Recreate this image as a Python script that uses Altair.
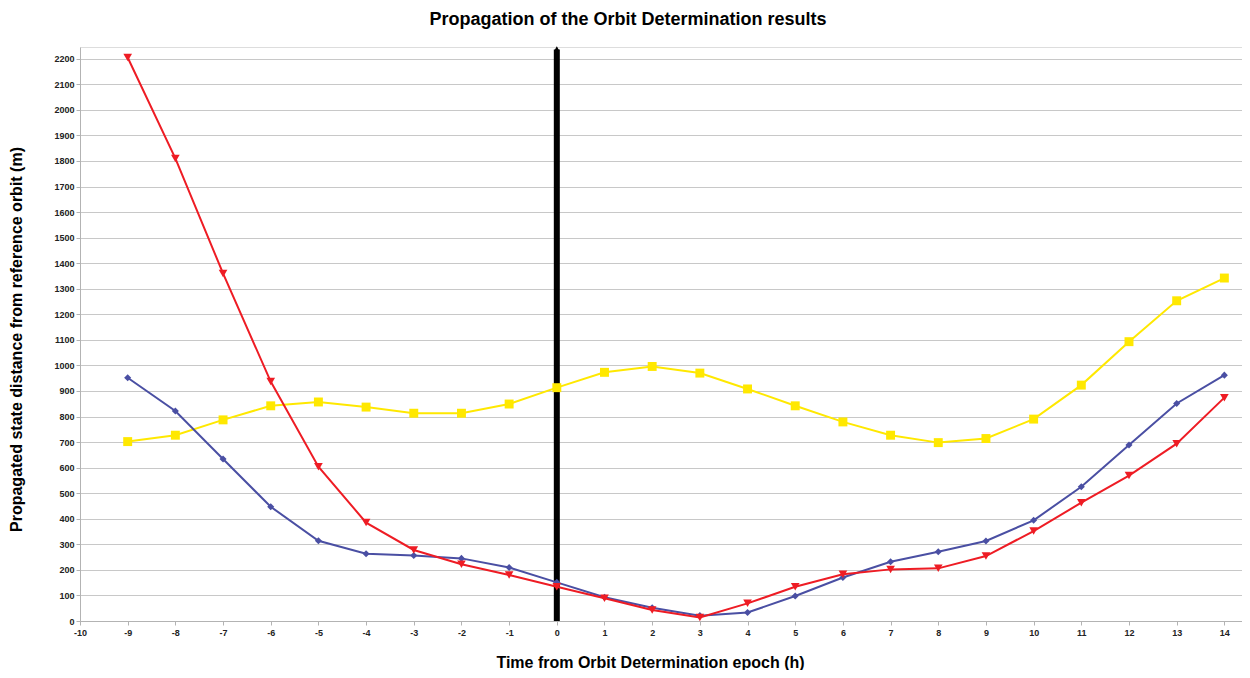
import altair as alt
import pandas as pd

hours = list(range(-9, 15))
red_values = [2205, 1810, 1360, 937, 604, 385, 278, 222, 180, 134, 89, 43, 14, 69, 134, 183,
              202, 206, 254, 352, 463, 569, 694, 874]
blue_values = [952, 822, 634, 447, 314, 263, 256, 245, 209, 151, 93, 52, 21, 33, 98, 170,
               232, 271, 313, 394, 525, 689, 851, 962]
yellow_values = [702, 727, 787, 842, 857, 837, 813, 813, 849, 913, 973, 996, 970, 908, 842, 779,
                 727, 698, 714, 790, 923, 1093, 1253, 1342]

series_names = ["Yellow", "Blue", "Red"]
series_colors = ["#ffe800", "#4a4fa3", "#ee1c24"]
series_shapes = ["square", "diamond", "triangle-down"]
series_sizes = [80, 50, 75]

x_ticks = list(range(-10, 15))
y_ticks = list(range(0, 2201, 100))

epoch = [0]
epoch_top = [2236]
arrow_tip = [2240]

rows = []
for name, vals in zip(series_names, [yellow_values, blue_values, red_values]):
    for h, v in zip(hours, vals):
        rows.append({"h": h, "d": v, "series": name})
df = pd.DataFrame(rows)

FONT = "Liberation Sans"

x_scale = alt.Scale(domain=[-10, 14.37], nice=False, zero=False)
y_scale = alt.Scale(domain=[0, 2246], nice=False, zero=True)

x_axis = alt.Axis(values=x_ticks, title="Time from Orbit Determination epoch (h)",
                  grid=False, labelFont=FONT, labelFontSize=9, labelFontWeight="bold",
                  labelColor="#222222", tickColor="#b3b3b3", tickSize=4, labelPadding=3,
                  domainColor="#b3b3b3", titleFont=FONT, titleFontSize=16,
                  titleFontWeight="bold", titleColor="#000000",
                  titleX=570, titleY=41, titleAlign="center", titleBaseline="middle",
                  labelFlush=False, labelOverlap=False, labelExpr="datum.value + ''")
y_axis = alt.Axis(values=y_ticks, title="Propagated state distance from reference orbit (m)",
                  grid=True, gridColor="#c8c8c8", labelFont=FONT, labelFontSize=9,
                  labelFontWeight="bold", labelColor="#222222", tickColor="#b3b3b3",
                  tickSize=4, labelPadding=2, domainColor="#b3b3b3", titleFont=FONT,
                  titleFontSize=16, titleFontWeight="bold", titleColor="#000000",
                  titleX=-64, titleY=292, titleAlign="center", titleBaseline="middle",
                  labelFlush=False, labelOverlap=False, labelExpr="datum.value + ''")

color_enc = alt.Color("series:N", scale=alt.Scale(domain=series_names, range=series_colors),
                      legend=None)

epoch_df = pd.DataFrame({"h": epoch, "y0": [0], "y1": epoch_top, "tip": arrow_tip})

rule = alt.Chart(epoch_df).mark_rule(color="black", strokeWidth=6).encode(
    x=alt.X("h:Q", scale=x_scale, axis=x_axis),
    y=alt.Y("y0:Q", scale=y_scale, axis=y_axis),
    y2="y1:Q",
)
tip = alt.Chart(epoch_df).mark_point(shape="triangle-up", filled=True, color="black",
                                     size=25, opacity=1).encode(
    x=alt.X("h:Q", scale=x_scale, axis=x_axis),
    y=alt.Y("tip:Q", scale=y_scale, axis=y_axis),
)

layers = [rule, tip]
for name, shape, size in zip(series_names, series_shapes, series_sizes):
    sub = df[df.series == name]
    line = alt.Chart(sub).mark_line(strokeWidth=2).encode(
        x=alt.X("h:Q", scale=x_scale, axis=x_axis),
        y=alt.Y("d:Q", scale=y_scale, axis=y_axis),
        color=color_enc,
    )
    pts = alt.Chart(sub).mark_point(shape=shape, filled=True, size=size, opacity=1).encode(
        x=alt.X("h:Q", scale=x_scale, axis=x_axis),
        y=alt.Y("d:Q", scale=y_scale, axis=y_axis),
        color=color_enc,
    )
    layers += [line, pts]

chart = alt.layer(*layers).properties(
    width=1162,
    height=574,
    autosize=alt.AutoSizeParams(type="none"),
    padding={"left": 72, "top": 39, "right": 0, "bottom": 49},
    title=alt.TitleParams("Propagation of the Orbit Determination results", font=FONT,
                          fontSize=18, fontWeight="bold", color="#000000",
                          anchor="middle", dx=-33, offset=17),
).configure_view(stroke="#c8c8c8", strokeWidth=1).configure(background="white")

chart.save("out.html", embed_options={"renderer": "svg", "actions": False})
